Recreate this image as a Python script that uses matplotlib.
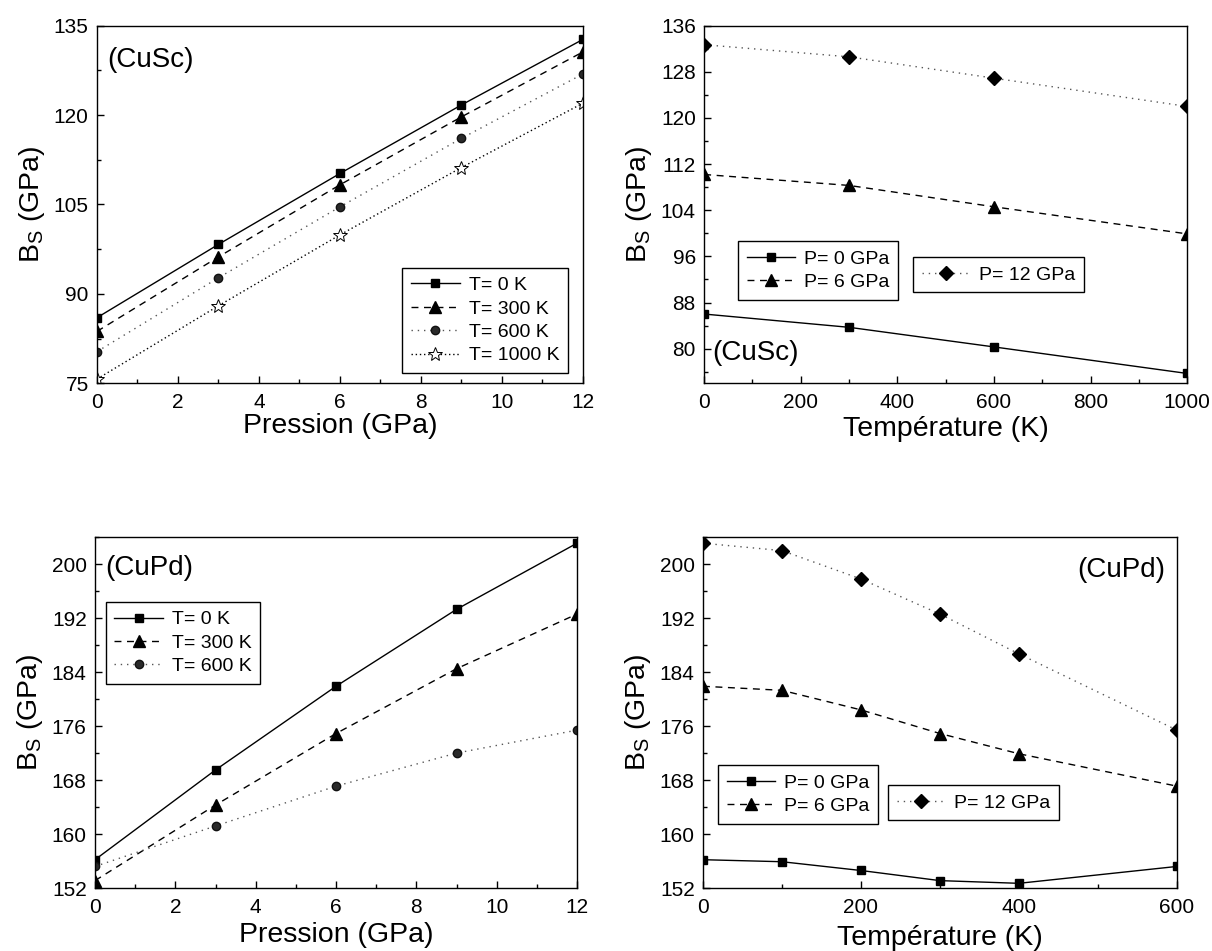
import matplotlib
matplotlib.use("Agg")
import matplotlib.pyplot as plt
from matplotlib.ticker import MultipleLocator, AutoMinorLocator

plt.rcParams['font.family'] = ['Liberation Sans', 'DejaVu Sans']
plt.rcParams['mathtext.fontset'] = 'custom'
plt.rcParams['mathtext.rm'] = 'Liberation Sans'

# CuSc: bulk modulus vs pressure at several temperatures
cusc_p = [0, 3, 6, 9, 12]
cusc_t0 = [86.0, 98.3, 110.2, 121.7, 132.7]
cusc_t300 = [83.7, 96.2, 108.3, 119.7, 130.6]
cusc_t600 = [80.3, 92.7, 104.6, 116.1, 126.9]
cusc_t1000 = [75.7, 88.0, 99.9, 111.2, 122.0]

# CuSc: bulk modulus vs temperature at several pressures
cusc_t = [0, 300, 600, 1000]
cusc_p0 = [86.0, 83.7, 80.3, 75.7]
cusc_p6 = [110.2, 108.3, 104.6, 99.9]
cusc_p12 = [132.7, 130.6, 126.9, 122.0]

# CuPd: bulk modulus vs pressure
cupd_p = [0, 3, 6, 9, 12]
cupd_t0 = [156.2, 169.5, 181.9, 193.3, 203.1]
cupd_t300 = [153.1, 164.3, 174.9, 184.5, 192.6]
cupd_t600 = [155.2, 161.2, 167.1, 172.0, 175.4]

# CuPd: bulk modulus vs temperature
cupd_t = [0, 100, 200, 300, 400, 600]
cupd_p0 = [156.2, 155.9, 154.6, 153.1, 152.7, 155.2]
cupd_p6 = [181.9, 181.3, 178.4, 174.9, 171.9, 167.1]
cupd_p12 = [203.1, 202.0, 197.8, 192.6, 186.7, 175.4]

YLABEL = r'B$_\mathregular{S}$ (GPa)'
LABEL_FS = 20.5

STYLES = {
    'sq': dict(ls='-', marker='s', ms=6, color='black', mfc='black', lw=1.0),
    'tri': dict(ls=(0, (5, 4)), marker='^', ms=8.5, color='black', mfc='black', lw=1.0),
    'circ': dict(ls=(0, (1, 3.5)), marker='o', ms=6, color='#555555', mfc='#2a2a2a', mec='#111111', lw=1.0),
    'star': dict(ls=(0, (1, 2)), marker='*', ms=10, color='black', mfc='white', mec='black', mew=0.7, lw=1.0),
    'dia': dict(ls=(0, (1, 3.5)), marker='D', ms=7.5, color='#555555', mfc='black', mec='black', lw=1.0),
}


def style_axes(ax, xmax, xmajor, ymin, ymax, ymajor):
    ax.set_xlim(0, xmax)
    ax.set_ylim(ymin, ymax)
    ax.xaxis.set_major_locator(MultipleLocator(xmajor))
    ax.yaxis.set_major_locator(MultipleLocator(ymajor))
    ax.xaxis.set_minor_locator(AutoMinorLocator(2))
    ax.yaxis.set_minor_locator(AutoMinorLocator(2))
    ax.tick_params(which='both', direction='in', top=False, right=False,
                   labelsize=15, width=1.0)
    ax.tick_params(which='major', length=5)
    ax.tick_params(which='minor', length=3)
    ax.tick_params(axis='x', pad=7)
    ax.tick_params(axis='y', pad=6)
    for s in ax.spines.values():
        s.set_linewidth(1.0)
    ax.set_ylabel(YLABEL, fontsize=LABEL_FS, labelpad=5)


def legend(ax, handles, labels, **kw):
    leg = ax.legend(handles, labels, frameon=True, fancybox=False, edgecolor='black',
                    framealpha=1, fontsize=14, handlelength=2.5, numpoints=1,
                    borderpad=0.45, labelspacing=0.3, handletextpad=0.45,
                    borderaxespad=0, **kw)
    leg.get_frame().set_linewidth(1.0)
    return leg


fig = plt.figure(figsize=(12.12, 9.51), dpi=100)

# top-left: CuSc vs pressure
ax1 = fig.add_axes([0.080, 0.597, 0.401, 0.376])
h = [ax1.plot(cusc_p, cusc_t0, **STYLES['sq'])[0],
     ax1.plot(cusc_p, cusc_t300, **STYLES['tri'])[0],
     ax1.plot(cusc_p, cusc_t600, **STYLES['circ'])[0],
     ax1.plot(cusc_p, cusc_t1000, **STYLES['star'])[0]]
style_axes(ax1, 12, 2, 75, 135, 15)
ax1.set_xlabel('Pression (GPa)', fontsize=LABEL_FS, labelpad=1)
legend(ax1, h, ['T= 0 K', 'T= 300 K', 'T= 600 K', 'T= 1000 K'],
       loc='lower right', bbox_to_anchor=(0.969, 0.028))
ax1.text(0.022, 0.905, '(CuSc)', transform=ax1.transAxes, fontsize=20, va='center')

# top-right: CuSc vs temperature
ax2 = fig.add_axes([0.581, 0.597, 0.3985, 0.376])
h0 = ax2.plot(cusc_t, cusc_p0, **STYLES['sq'])[0]
h6 = ax2.plot(cusc_t, cusc_p6, **STYLES['tri'])[0]
h12 = ax2.plot(cusc_t, cusc_p12, **STYLES['dia'])[0]
style_axes(ax2, 1000, 200, 74, 136, 8)
ax2.set_yticks([80, 88, 96, 104, 112, 120, 128, 136])
ax2.set_xlabel('Température (K)', fontsize=LABEL_FS, labelpad=3)
l1 = legend(ax2, [h0, h6], ['P= 0 GPa', 'P= 6 GPa'],
            loc='upper left', bbox_to_anchor=(0.070, 0.397))
ax2.add_artist(l1)
legend(ax2, [h12], ['P= 12 GPa'], loc='upper left', bbox_to_anchor=(0.433, 0.352))
ax2.text(0.017, 0.084, '(CuSc)', transform=ax2.transAxes, fontsize=20, va='center')

# bottom-left: CuPd vs pressure
ax3 = fig.add_axes([0.0784, 0.0662, 0.3977, 0.369])
h = [ax3.plot(cupd_p, cupd_t0, **STYLES['sq'])[0],
     ax3.plot(cupd_p, cupd_t300, **STYLES['tri'])[0],
     ax3.plot(cupd_p, cupd_t600, **STYLES['circ'])[0]]
style_axes(ax3, 12, 2, 152, 204, 8)
ax3.set_xlabel('Pression (GPa)', fontsize=LABEL_FS, labelpad=4)
legend(ax3, h, ['T= 0 K', 'T= 300 K', 'T= 600 K'],
       loc='upper left', bbox_to_anchor=(0.022, 0.815))
ax3.text(0.022, 0.912, '(CuPd)', transform=ax3.transAxes, fontsize=20, va='center')

# bottom-right: CuPd vs temperature
ax4 = fig.add_axes([0.580, 0.0662, 0.391, 0.369])
h0 = ax4.plot(cupd_t, cupd_p0, **STYLES['sq'])[0]
h6 = ax4.plot(cupd_t, cupd_p6, **STYLES['tri'])[0]
h12 = ax4.plot(cupd_t, cupd_p12, **STYLES['dia'])[0]
style_axes(ax4, 600, 200, 152, 204, 8)
ax4.set_xlabel('Température (K)', fontsize=LABEL_FS, labelpad=6)
l1 = legend(ax4, [h0, h6], ['P= 0 GPa', 'P= 6 GPa'],
            loc='upper left', bbox_to_anchor=(0.032, 0.350))
ax4.add_artist(l1)
legend(ax4, [h12], ['P= 12 GPa'], loc='upper left', bbox_to_anchor=(0.391, 0.293))
ax4.text(0.976, 0.906, '(CuPd)', transform=ax4.transAxes, fontsize=20,
         va='center', ha='right')

fig.savefig('out.png', dpi=100, facecolor='white')
